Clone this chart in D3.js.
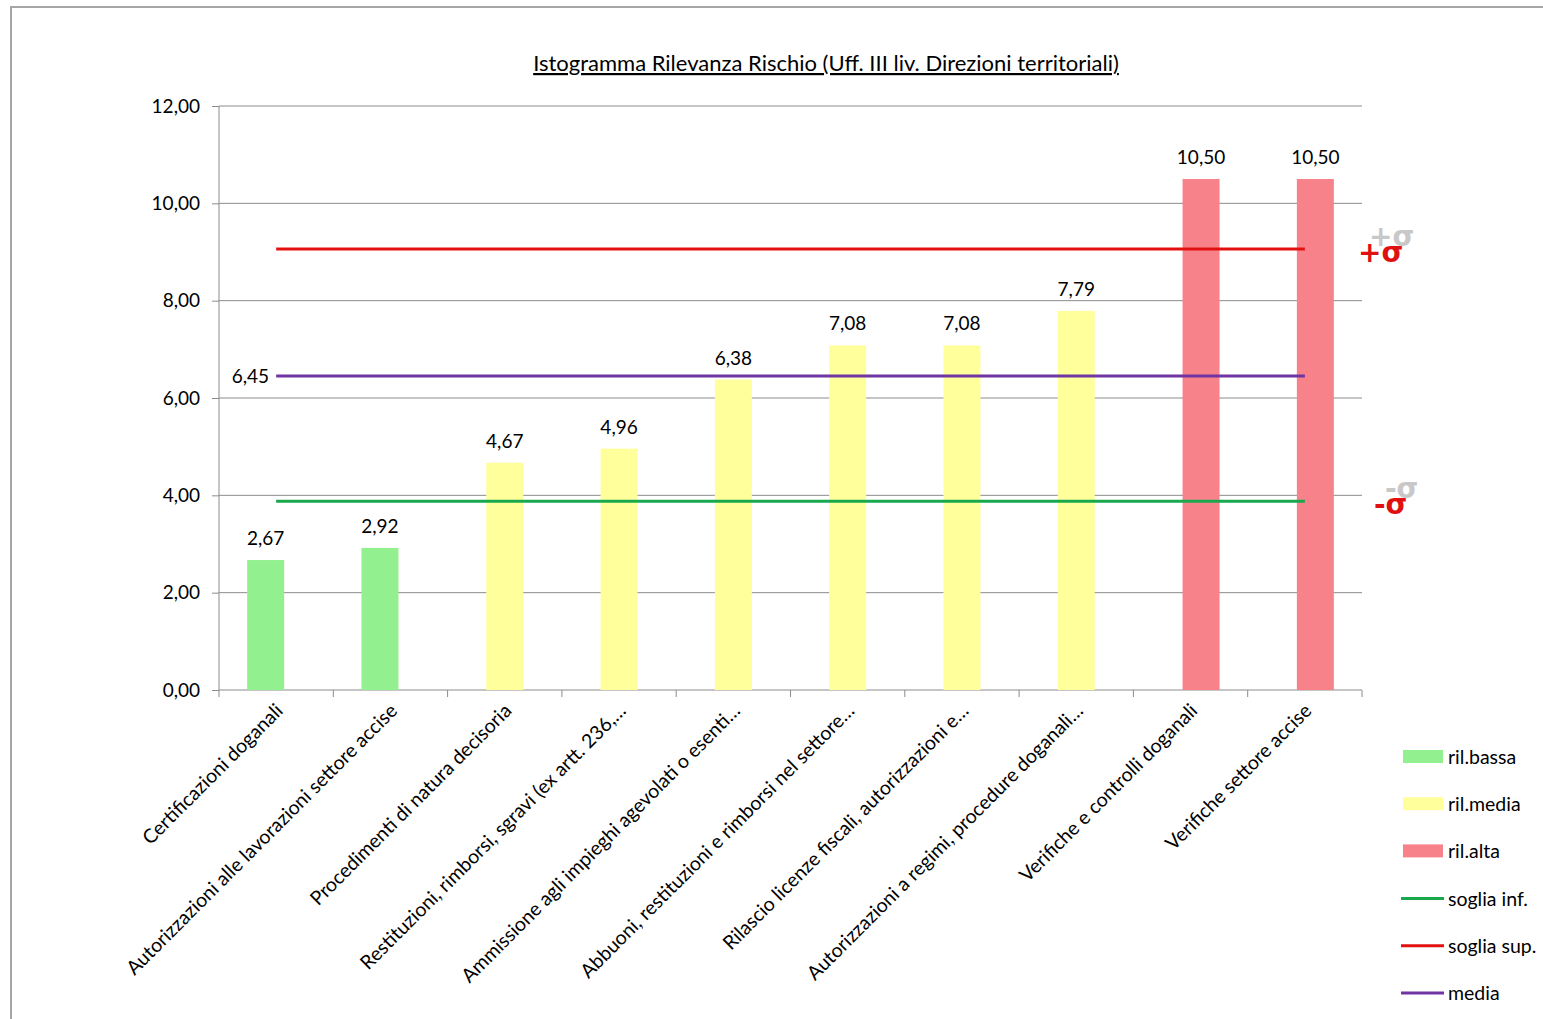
<!DOCTYPE html>
<html><head><meta charset="utf-8">
<script src="https://cdn.jsdelivr.net/npm/d3@7"></script>
<style>
html,body{margin:0;padding:0;background:#fff;}
svg text{font-family:Lato,"Open Sans",sans-serif;fill:#000;}
</style></head>
<body>
<svg id="chart" width="1543" height="1019"></svg>
<script>
const categories = [
  "Certificazioni doganali",
  "Autorizzazioni alle lavorazioni settore accise",
  "Procedimenti di natura decisoria",
  "Restituzioni, rimborsi, sgravi (ex artt. 236,…",
  "Ammissione agli impieghi agevolati o esenti…",
  "Abbuoni, restituzioni e rimborsi nel settore…",
  "Rilascio licenze fiscali, autorizzazioni e…",
  "Autorizzazioni a regimi, procedure doganali…",
  "Verifiche e controlli doganali",
  "Verifiche settore accise"
];
const rilBassa = [2.67, 2.92, null, null, null, null, null, null, null, null];
const rilMedia = [null, null, 4.67, 4.96, 6.38, 7.08, 7.08, 7.79, null, null];
const rilAlta  = [null, null, null, null, null, null, null, null, 10.50, 10.50];
const sogliaInf = [3.88, 3.88, 3.88, 3.88, 3.88, 3.88, 3.88, 3.88, 3.88, 3.88];
const sogliaSup = [9.06, 9.06, 9.06, 9.06, 9.06, 9.06, 9.06, 9.06, 9.06, 9.06];
const media     = [6.45, 6.45, 6.45, 6.45, 6.45, 6.45, 6.45, 6.45, 6.45, 6.45];
const yTicks = [0, 2, 4, 6, 8, 10, 12];
const title = "Istogramma Rilevanza Rischio (Uff. III liv. Direzioni  territoriali)";
const legendLabels = ["ril.bassa", "ril.media", "ril.alta", "soglia inf.", "soglia sup.", "media"];

const fmt = v => d3.format(".2f")(v).replace(".", ",");
const svg = d3.select("#chart");

// outer border
svg.append("rect").attr("x", 11).attr("y", 7).attr("width", 1600).attr("height", 1100)
  .attr("fill", "none").attr("stroke", "#a6a6a6").attr("stroke-width", 2);

const L = 219, R = 1362, T = 106, B = 690;
const x = d3.scaleBand().domain(categories).range([L, R]).paddingInner(0).paddingOuter(0);
const y = d3.scaleLinear().domain([0, 12]).range([B, T]);
const seriesNames = ["bassa", "media", "alta"];
const xs = d3.scalePoint().domain(seriesNames).range([-10.5, 10.5]);
const barW = 37;
const cx = c => x(c) + x.bandwidth() / 2;

// gridlines
svg.append("g").selectAll("line").data(yTicks.filter(t => t > 0)).join("line")
  .attr("x1", L).attr("x2", R).attr("y1", d => y(d)).attr("y2", d => y(d))
  .attr("stroke", "#8c8c8c").attr("stroke-width", 1);

// y axis
const yAxis = d3.axisLeft(y).tickValues(yTicks).tickSize(7).tickPadding(12).tickFormat(fmt);
const gy = svg.append("g").attr("transform", `translate(${L},0)`).call(yAxis);
gy.select(".domain").attr("stroke", "#8c8c8c").attr("d", `M0,${T}V${B}`);
gy.selectAll(".tick line").attr("stroke", "#8c8c8c");
gy.selectAll(".tick text").attr("font-size", 19).style("font-family", "Lato, sans-serif");

// x axis
const gx = svg.append("g").attr("transform", `translate(0,${B})`);
gx.append("line").attr("x1", L).attr("x2", R).attr("y1", 0).attr("y2", 0).attr("stroke", "#8c8c8c");
const bounds = categories.map(c => x(c)).concat([R]);
gx.selectAll("line.tk").data(bounds).join("line").attr("class", "tk")
  .attr("x1", d => d).attr("x2", d => d).attr("y1", 0).attr("y2", 7).attr("stroke", "#8c8c8c");
gx.selectAll("text").data(categories).join("text")
  .attr("transform", d => `translate(${cx(d) + 8},${22}) rotate(-45)`)
  .attr("text-anchor", "end").attr("font-size", 19.5).text(d => d);

// bars
const seriesDefs = [
  {name: "bassa", values: rilBassa, color: "#93f08f"},
  {name: "media", values: rilMedia, color: "#ffff9c"},
  {name: "alta",  values: rilAlta,  color: "#f8828a"}
];
seriesDefs.forEach(s => {
  const data = categories.map((c, i) => ({c, v: s.values[i]})).filter(d => d.v != null);
  svg.append("g").selectAll("rect").data(data).join("rect")
    .attr("x", d => cx(d.c) + xs(s.name) - barW / 2)
    .attr("y", d => y(d.v)).attr("width", barW).attr("height", d => y(0) - y(d.v))
    .attr("fill", s.color);
  svg.append("g").selectAll("text").data(data).join("text")
    .attr("x", d => cx(d.c) + xs(s.name)).attr("y", d => y(d.v) - 15)
    .attr("text-anchor", "middle").attr("font-size", 19).text(d => fmt(d.v));
});

// lines
const lineDefs = [
  {values: sogliaInf, color: "#1aa84f"},
  {values: sogliaSup, color: "#e31010"},
  {values: media, color: "#7134a3"}
];
const lineGen = d3.line().x(d => cx(d.c)).y(d => y(d.v));
lineDefs.forEach(l => {
  svg.append("path").datum(categories.map((c, i) => ({c, v: l.values[i]})))
    .attr("d", lineGen).attr("fill", "none").attr("stroke", l.color).attr("stroke-width", 3);
});
// media label
svg.append("text").attr("x", cx(categories[0]) - 7).attr("y", y(media[0]) + 7)
  .attr("text-anchor", "end").attr("font-size", 19).text(fmt(media[0]));

// sigma labels (grey shadow + red glyph, one text element)
function sigma(label, xPos, yVal) {
  const yy = y(yVal);
  const t = svg.append("text").attr("font-size", 28).attr("font-weight", "bold")
    .style("font-family", "DejaVu Sans, sans-serif");
  t.append("tspan").attr("x", xPos + 11).attr("y", yy - 3).style("fill", "#c8c8c8").text(label);
  t.append("tspan").attr("x", xPos).attr("y", yy + 13).style("fill", "#e01010").text(label);
}
sigma("+σ", 1358, sogliaSup[0]);
sigma("-σ", 1374, sogliaInf[0]);

// title
svg.append("text").attr("x", 826).attr("y", 71).attr("text-anchor", "middle")
  .attr("font-size", 22).style("text-decoration", "underline")
  .text(title);

// legend
const legendColors = ["#93f08f", "#ffff9c", "#f8828a", "#1aa84f", "#e31010", "#7134a3"];
const lg = svg.append("g");
legendLabels.forEach((lab, i) => {
  const ly = 757 + i * 47.2;
  if (i < 3) {
    lg.append("rect").attr("x", 1403).attr("y", ly - 7).attr("width", 40).attr("height", 13).attr("fill", legendColors[i]);
  } else {
    lg.append("line").attr("x1", 1401).attr("x2", 1444).attr("y1", ly).attr("y2", ly)
      .attr("stroke", legendColors[i]).attr("stroke-width", 3);
  }
  lg.append("text").attr("x", 1448).attr("y", ly + 7).attr("font-size", 19.5).text(lab);
});
</script>
</body></html>
